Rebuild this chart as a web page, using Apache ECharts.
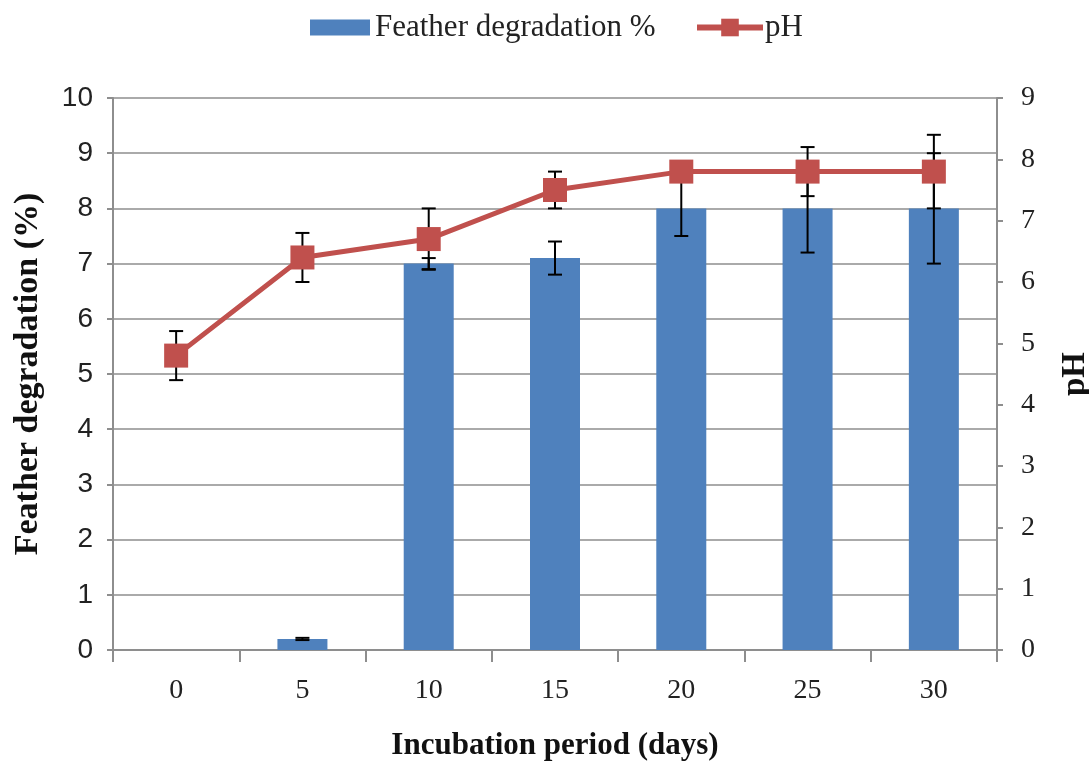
<!DOCTYPE html>
<html>
<head>
<meta charset="utf-8">
<script src="https://cdn.jsdelivr.net/npm/echarts@6/dist/echarts.min.js"></script>
<style>
  html, body { margin: 0; padding: 0; background: #fff; }
  #chart { width: 1089px; height: 769px; }
</style>
</head>
<body>
<div id="chart"></div>
<script>
// Incubation days
const days = ['0', '5', '10', '15', '20', '25', '30'];
// Feather degradation (%) with standard deviation
const degradation = [0, 0.2, 7.0, 7.1, 8.0, 8.0, 8.0];
const degradationErr = [0, 0.02, 0.1, 0.3, 0.5, 0.8, 1.0];
// pH of the medium with standard deviation
const ph = [4.8, 6.4, 6.7, 7.5, 7.8, 7.8, 7.8];
const phErr = [0.4, 0.4, 0.5, 0.3, 0.1, 0.4, 0.6];

const serif = '"Liberation Serif", "Times New Roman", serif';
const sans = '"Liberation Sans", Arial, sans-serif';
const axisGray = '#8e8e8e';

function errorData(vals, errs) {
  return vals.map((v, i) => [i, v - errs[i], v + errs[i], errs[i]]);
}

// Vertical whisker with caps at both ends
function renderError(params, api) {
  if (api.value(3) <= 0) return null;
  const i = api.value(0);
  const lo = api.coord([i, api.value(1)]);
  const hi = api.coord([i, api.value(2)]);
  const half = 7;
  const style = { stroke: '#000', lineWidth: 2 };
  return {
    type: 'group',
    children: [
      { type: 'line', shape: { x1: lo[0], y1: lo[1], x2: hi[0], y2: hi[1] }, style },
      { type: 'line', shape: { x1: lo[0] - half, y1: lo[1], x2: lo[0] + half, y2: lo[1] }, style },
      { type: 'line', shape: { x1: hi[0] - half, y1: hi[1], x2: hi[0] + half, y2: hi[1] }, style }
    ]
  };
}

const chart = echarts.init(document.getElementById('chart'));
chart.setOption({
  animation: false,
  backgroundColor: '#fff',
  legend: [
    {
      data: [{ name: 'Feather degradation %', icon: 'rect' }],
      left: 305, top: 7,
      itemWidth: 60, itemHeight: 16, itemGap: 6,
      textStyle: { fontFamily: serif, fontSize: 31, color: '#222' }
    },
    {
      data: ['pH'],
      left: 689, top: 7,
      itemWidth: 66, itemHeight: 22, itemGap: 0,
      lineStyle: { width: 6 },
      textStyle: { fontFamily: serif, fontSize: 31, color: '#222', padding: [0, 0, 0, -3] }
    }
  ],
  grid: {
    left: 113, right: 92, top: 98, bottom: 119,
    containLabel: false,
    outerBoundsMode: 'none'
  },
  xAxis: {
    type: 'category',
    data: days,
    boundaryGap: true,
    name: 'Incubation period (days)',
    nameLocation: 'middle',
    nameGap: 80,
    nameTextStyle: { fontFamily: serif, fontSize: 31, fontWeight: 'bold', color: '#111' },
    axisLine: { lineStyle: { color: axisGray, width: 2 } },
    axisTick: { show: true, length: 12, lineStyle: { color: axisGray, width: 2 } },
    axisLabel: { fontFamily: serif, fontSize: 28, color: '#222', margin: 27 }
  },
  yAxis: [
    {
      type: 'value',
      min: 0, max: 10, interval: 1,
      name: 'Feather degradation (%)',
      nameLocation: 'middle',
      nameRotate: 90,
      nameGap: 68,
      nameTextStyle: { fontFamily: serif, fontSize: 34, fontWeight: 'bold', color: '#111' },
      axisLine: { show: true, lineStyle: { color: axisGray, width: 2 } },
      axisTick: { show: true, length: 6, lineStyle: { color: axisGray, width: 2 } },
      axisLabel: { fontFamily: sans, fontSize: 28, color: '#222', margin: 20 },
      splitLine: { show: true, lineStyle: { color: axisGray, width: 1.5 } }
    },
    {
      type: 'value',
      min: 0, max: 9, interval: 1,
      position: 'right',
      name: 'pH',
      nameLocation: 'middle',
      nameRotate: 90,
      nameGap: 62,
      nameTextStyle: { fontFamily: serif, fontSize: 33, fontWeight: 'bold', color: '#111' },
      axisLine: { show: true, lineStyle: { color: axisGray, width: 2 } },
      axisTick: { show: true, length: 6, lineStyle: { color: axisGray, width: 2 } },
      axisLabel: { fontFamily: serif, fontSize: 28, color: '#222', margin: 24 },
      splitLine: { show: false }
    }
  ],
  series: [
    {
      name: 'Feather degradation %',
      type: 'bar',
      data: degradation,
      barWidth: 50,
      itemStyle: { color: '#4F81BD' },
      z: 2
    },
    {
      name: 'degradation error',
      type: 'custom',
      data: errorData(degradation, degradationErr),
      renderItem: renderError,
      encode: { x: 0, y: [1, 2] },
      z: 3,
      silent: true
    },
    {
      name: 'pH error',
      type: 'custom',
      yAxisIndex: 1,
      data: errorData(ph, phErr),
      renderItem: renderError,
      encode: { x: 0, y: [1, 2] },
      z: 3,
      silent: true
    },
    {
      name: 'pH',
      type: 'line',
      yAxisIndex: 1,
      data: ph,
      symbol: 'rect',
      symbolSize: 24,
      lineStyle: { color: '#C0504D', width: 5 },
      itemStyle: { color: '#C0504D' },
      z: 5
    }
  ]
});
</script>
</body>
</html>
